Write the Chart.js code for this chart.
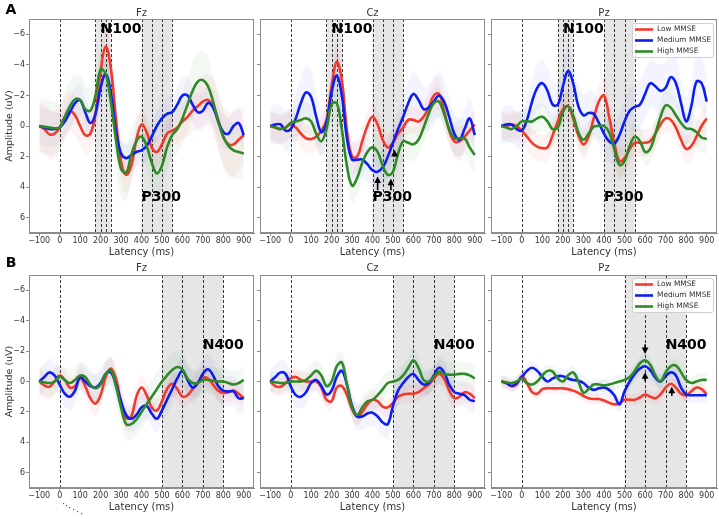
<!DOCTYPE html>
<html>
<head>
<meta charset="utf-8">
<script src="https://cdn.jsdelivr.net/npm/chart.js@4.4.1/dist/chart.umd.min.js"></script>
<style>
  body { margin: 0; background: #fff; width: 719px; height: 519px; position: relative; overflow: hidden; }
  canvas { position: absolute; }
</style>
</head>
<body>
<script>
// ERP grand averages per MMSE group, sampled every 25 ms (uV, negative up)
const latency = [-100,-75,-50,-25,0,25,50,75,100,125,150,175,200,225,250,275,300,325,350,375,400,425,450,475,500,525,550,575,600,625,650,675,700,725,750,775,800,825,850,875,900];
const xTicks = [-100,0,100,200,300,400,500,600,700,800,900];
const yTicks = [-6,-4,-2,0,2,4,6];
const groups = ['Low MMSE', 'Medium MMSE', 'High MMSE'];

// A: N100 / P300 window
const fzLowA = [0,0.2,0.55,0.5,0.1,-0.6,-1.0,-0.7,0.0,0.6,0.5,-0.8,-3.6,-5.2,-3.8,-0.5,2.3,3.2,2.6,0.9,-0.1,0.4,1.4,1.7,1.2,0.5,0.3,0.1,-0.3,-0.6,-1.0,-1.3,-1.6,-1.7,-1.3,-0.4,0.7,1.2,1.2,0.9,0.6];
const fzMedA = [0,0.1,0.2,0.2,0.1,-0.3,-0.9,-1.5,-1.7,-0.9,-0.2,-0.8,-2.5,-3.4,-2.2,0.3,1.8,2.1,1.9,1.7,1.6,1.3,0.7,0.0,-0.5,-0.8,-0.9,-1.4,-2.0,-2.0,-1.4,-0.9,-1.0,-1.5,-1.2,-0.3,0.4,0.5,0.0,-0.2,0.6];
const fzHighA = [0,0.05,0.1,0.15,0.1,-0.6,-1.3,-1.75,-1.7,-1.1,-1.0,-2.0,-3.7,-3.4,-1.6,0.9,2.8,3.05,1.9,1.0,0.7,1.3,2.4,3.1,2.6,1.4,0.6,0.2,-0.5,-1.4,-2.3,-2.9,-3.0,-2.6,-1.6,-0.3,0.7,1.3,1.6,1.7,1.8];
const czLowA = [0,0.1,0.2,0.1,-0.1,0.1,0.5,0.8,0.85,0.7,0.3,-0.4,-2.6,-4.2,-3.0,0.3,2.0,2.0,1.0,0.0,-0.6,-0.1,0.9,1.4,1.1,0.5,0.1,-0.4,-0.4,-0.3,-0.6,-1.2,-2.0,-2.1,-1.0,0.3,1.0,1.0,0.7,0.3,-0.1];
const czMedA = [0,-0.1,-0.1,0.3,0.2,-0.5,-1.5,-2.2,-1.9,-0.6,0.4,-0.2,-2.2,-3.3,-2.0,0.8,2.2,2.2,2.2,2.5,2.9,3.0,2.7,2.0,1.1,0.2,-0.6,-1.5,-2.1,-1.7,-1.1,-1.2,-1.6,-2.0,-1.6,-0.6,0.5,0.9,0.2,-0.5,0.6];
const czHighA = [0,0.1,0.2,0.1,-0.2,-0.3,-0.4,-0.5,-0.3,0.5,1.0,0.2,-1.4,-1.5,0.2,2.6,3.9,3.4,2.4,1.7,1.4,1.7,2.6,3.2,3.0,1.8,1.0,1.1,1.2,0.9,0.1,-0.8,-1.5,-1.6,-0.8,0.2,0.8,0.8,0.8,1.4,1.9];
const pzLowA = [0,0.0,-0.1,0.0,0.3,0.7,1.1,1.35,1.45,1.4,0.6,-0.3,-1.1,-1.3,-0.5,0.6,1.2,0.7,-0.5,-1.6,-2.0,-0.6,1.1,2.3,2.1,1.5,1.1,1.1,1.1,1.0,0.5,-0.1,-0.5,-0.4,0.1,0.9,1.5,1.3,0.7,0.0,-0.5];
const pzMedA = [0,-0.1,-0.1,0.2,0.3,-0.4,-1.6,-2.5,-2.8,-2.3,-1.4,-1.4,-2.6,-3.6,-2.8,-1.3,-0.7,-0.85,-0.8,-0.2,0.5,1.0,1.15,0.6,-0.3,-1.0,-1.25,-1.4,-2.1,-2.8,-2.6,-2.3,-2.5,-3.2,-2.8,-1.5,-0.3,-1.3,-2.9,-2.8,-1.6];
const pzHighA = [0,0.1,0.2,0.0,-0.3,-0.3,-0.3,-0.5,-0.6,-0.3,0.2,0.1,-0.9,-1.3,-0.7,0.4,0.9,0.5,0.05,0.0,0.0,0.4,1.5,2.55,2.3,1.3,0.7,1.0,1.7,1.5,0.5,-0.6,-1.35,-1.2,-0.7,-0.2,0.15,0.2,0.4,0.75,0.85];

const fzLowSemA = [1.6,1.6,1.6,1.5,1.4,1.3,1.3,1.3,1.2,1.2,1.2,1.2,1.3,1.3,1.3,1.3,1.3,1.2,1.1,1.1,1.0,1.0,1.0,1.0,1.0,1.0,1.0,1.1,1.2,1.3,1.4,1.5,1.6,1.7,1.8,1.9,2.0,2.1,2.1,2.0,1.9];
const fzMedSemA = [1.2,1.2,1.2,1.1,1.0,1.0,1.0,1.0,1.0,1.0,1.0,1.0,1.0,1.1,1.1,1.1,1.0,1.0,1.0,1.0,1.0,1.0,1.0,1.0,1.0,1.1,1.1,1.2,1.2,1.2,1.2,1.2,1.2,1.2,1.2,1.1,1.1,1.0,1.0,1.0,1.0];
const fzHighSemA = [1.8,1.8,1.8,1.7,1.6,1.6,1.6,1.6,1.6,1.5,1.5,1.5,1.5,1.5,1.5,1.6,1.8,1.8,1.7,1.6,1.5,1.5,1.5,1.5,1.5,1.5,1.5,1.6,1.7,1.8,1.9,1.9,1.9,1.9,1.8,1.8,1.8,1.8,1.8,1.8,1.8];
const czLowSemA = [0.9,0.9,0.9,0.9,0.9,0.9,0.9,0.9,0.9,0.9,0.9,1.0,1.1,1.2,1.2,1.1,1.0,1.0,0.9,0.9,0.9,0.9,0.9,0.9,0.9,0.9,0.9,0.9,0.9,1.0,1.0,1.0,1.1,1.1,1.1,1.0,1.0,1.0,0.9,0.9,0.9];
const czMedSemA = [1.3,1.3,1.3,1.3,1.4,1.6,1.7,1.8,1.8,1.7,1.5,1.3,1.3,1.3,1.3,1.2,1.2,1.2,1.2,1.2,1.2,1.2,1.2,1.2,1.2,1.2,1.3,1.4,1.5,1.5,1.5,1.5,1.5,1.5,1.4,1.4,1.4,1.4,1.4,1.3,1.3];
const czHighSemA = [1.0,1.0,1.0,1.0,1.0,1.0,1.0,1.0,1.0,1.0,1.0,1.0,1.1,1.1,1.1,1.1,1.1,1.1,1.0,1.0,1.0,1.0,1.1,1.2,1.2,1.2,1.2,1.1,1.1,1.0,1.0,1.0,1.0,1.0,1.0,1.0,1.1,1.2,1.2,1.2,1.2];
const pzLowSemA = [0.9,0.9,0.9,0.9,0.9,0.9,0.9,0.9,0.9,0.9,0.9,0.9,0.9,0.9,0.9,0.9,0.9,0.9,1.0,1.1,1.2,1.2,1.1,1.0,0.9,0.9,0.9,0.9,0.9,0.9,0.9,0.9,0.9,0.9,0.9,0.9,0.9,0.9,0.9,0.9,0.9];
const pzMedSemA = [1.2,1.2,1.2,1.2,1.3,1.4,1.5,1.5,1.5,1.5,1.5,1.5,1.5,1.5,1.5,1.4,1.4,1.4,1.4,1.4,1.4,1.4,1.4,1.4,1.4,1.4,1.5,1.6,1.6,1.6,1.6,1.7,1.7,1.7,1.7,1.6,1.6,1.7,1.7,1.7,1.6];
const pzHighSemA = [0.9,0.9,0.9,0.9,0.9,0.9,0.9,0.9,0.9,0.9,0.9,0.9,0.9,0.9,0.9,0.9,0.9,0.9,0.9,0.9,0.9,0.9,1.0,1.0,1.0,0.9,0.9,0.9,0.9,0.9,1.0,1.0,1.0,1.0,1.0,1.0,1.0,1.0,1.0,1.0,1.0];

// B: N400 window
const fzLowB = [0,0.25,0.35,0.0,-0.4,-0.1,0.4,0.3,-0.2,0.3,1.1,1.45,0.9,-0.3,-0.85,-0.2,1.4,2.4,2.3,1.0,0.4,0.9,1.7,1.9,1.3,0.5,0.15,0.5,1.0,0.9,0.5,0.1,-0.25,-0.2,0.2,0.6,0.75,0.7,0.6,0.8,1.1];
const fzMedB = [0,-0.3,-0.6,-0.4,0.2,0.8,1.0,0.6,-0.3,0.0,0.3,0.4,0.1,-0.5,-0.6,0.2,1.3,2.2,2.45,2.2,1.7,1.6,2.1,2.45,1.9,1.2,0.5,-0.2,-0.7,-0.1,0.4,0.1,-0.5,-0.8,-0.4,0.3,0.6,0.65,0.65,1.1,1.1];
const fzHighB = [0,0.05,0.1,0.0,-0.3,-0.1,0.1,-0.1,-0.4,-0.3,0.2,0.45,0.2,-0.5,-0.75,0.3,1.7,2.8,2.8,2.5,2.0,1.5,1.0,0.5,0.0,-0.4,-0.75,-0.95,-0.8,-0.2,0.1,0.1,-0.1,-0.1,-0.05,0.0,0.0,0.1,0.2,0.1,-0.1];
const czLowB = [0,0.3,0.35,0.1,-0.2,-0.3,-0.1,0.0,0.0,0.0,0.4,1.2,1.3,0.4,0.3,0.9,1.8,2.3,2.0,1.5,1.2,1.3,1.65,1.7,1.4,1.0,0.85,0.8,0.8,0.7,0.45,0.2,-0.2,-0.5,-0.2,0.6,1.1,1.0,0.7,0.8,1.1];
const czMedB = [0,-0.3,-0.6,-0.5,0.3,0.9,1.0,0.7,0.1,-0.1,0.3,0.85,0.6,-0.3,-0.7,0.2,1.6,2.3,2.3,2.1,2.05,2.3,2.7,2.8,1.6,0.6,0.1,-0.3,-0.5,-0.1,0.2,0.1,-0.4,-0.9,-0.6,0.2,0.7,0.8,0.9,1.2,1.3];
const czHighB = [0,0.05,0.1,0.1,0.0,0.0,0.0,-0.1,-0.4,-0.7,-0.4,0.3,0.0,-1.0,-1.25,0.2,1.7,2.2,1.7,1.3,1.2,0.9,0.5,0.1,0.0,-0.1,-0.4,-0.9,-1.4,-0.9,-0.1,0.0,-0.3,-0.65,-0.5,-0.45,-0.45,-0.5,-0.5,-0.4,-0.2];
const pzLowB = [0,0.1,0.3,0.2,-0.35,0.1,0.7,0.8,0.5,0.45,0.45,0.45,0.45,0.5,0.6,0.75,0.95,1.1,1.15,1.15,1.25,1.4,1.5,1.45,1.2,1.2,1.2,1.05,0.85,1.0,1.1,0.85,0.4,0.15,0.4,0.8,0.9,0.65,0.4,0.5,0.85];
const pzMedB = [0,0.1,0.3,0.1,-0.3,-0.7,-0.9,-0.7,-0.3,0.0,-0.2,-0.35,-0.35,-0.2,-0.1,-0.05,0.1,0.4,0.55,0.45,0.4,0.55,0.9,1.5,0.65,0.0,-0.5,-0.85,-1.0,-0.75,-0.25,0.0,-0.35,-0.6,-0.4,0.4,0.85,0.9,0.9,0.9,0.9];
const pzHighB = [0,0.05,0.1,0.0,-0.2,0.1,0.2,0.0,-0.4,-0.7,-0.65,-0.2,0.0,-0.4,-0.6,0.0,0.75,0.5,0.2,0.2,0.25,0.2,0.1,0.0,-0.1,-0.3,-0.7,-1.2,-1.4,-1.1,-0.4,0.0,-0.6,-1.0,-1.05,-0.6,-0.1,0.1,0.0,-0.1,-0.1];

const fzLowSemB = [0.8,0.8,0.8,0.8,0.7,0.7,0.7,0.7,0.7,0.7,0.8,0.8,0.8,0.8,0.8,0.8,0.8,0.8,0.8,0.8,0.8,0.8,0.8,0.8,0.8,0.8,0.8,0.8,0.7,0.7,0.7,0.7,0.7,0.7,0.7,0.7,0.7,0.7,0.7,0.7,0.7];
const fzMedSemB = [0.9,0.9,0.9,0.9,0.9,0.9,0.9,0.9,0.9,0.9,0.9,0.9,0.9,0.9,0.9,0.9,0.9,0.9,0.9,0.9,0.9,0.9,0.9,0.9,0.9,1.0,1.0,1.0,1.0,1.0,1.0,1.0,1.0,1.0,1.0,1.0,1.0,1.0,1.0,1.0,1.0];
const fzHighSemB = [0.9,0.9,0.9,0.9,0.9,0.9,0.9,0.9,0.9,0.9,0.9,0.9,0.9,0.9,0.9,1.0,1.0,1.0,1.0,1.0,1.1,1.1,1.1,1.1,1.1,1.1,1.1,1.1,1.0,1.0,0.9,0.9,0.9,0.9,0.9,0.9,0.9,0.9,0.9,0.9,0.9];
const czLowSemB = [0.6,0.6,0.6,0.6,0.6,0.6,0.6,0.6,0.6,0.6,0.6,0.6,0.6,0.6,0.6,0.6,0.6,0.6,0.6,0.6,0.6,0.6,0.6,0.6,0.6,0.6,0.6,0.6,0.6,0.6,0.6,0.6,0.7,0.7,0.7,0.7,0.7,0.7,0.7,0.7,0.7];
const czMedSemB = [0.8,0.8,0.8,0.8,0.8,0.8,0.8,0.8,0.8,0.8,0.8,0.8,0.8,0.8,0.8,0.9,0.9,0.9,0.9,0.9,0.9,0.9,0.9,0.9,0.9,0.9,0.9,0.9,0.9,0.9,0.8,0.8,0.8,0.8,0.8,0.8,0.8,0.8,0.8,0.8,0.8];
const czHighSemB = [0.7,0.7,0.7,0.7,0.7,0.7,0.7,0.7,0.7,0.7,0.7,0.7,0.7,0.7,0.7,0.7,0.7,0.7,0.7,0.7,0.8,0.8,0.8,0.8,0.8,0.8,0.8,0.8,0.8,0.8,0.8,0.8,0.8,0.8,0.8,0.8,0.8,0.8,0.8,0.8,0.8];
const pzLowSemB = [0.35,0.35,0.35,0.35,0.35,0.35,0.35,0.35,0.35,0.35,0.35,0.35,0.35,0.35,0.35,0.35,0.35,0.35,0.35,0.35,0.4,0.4,0.4,0.4,0.4,0.4,0.4,0.4,0.4,0.4,0.4,0.4,0.4,0.4,0.4,0.4,0.4,0.4,0.4,0.4,0.4];
const pzMedSemB = [0.45,0.45,0.45,0.45,0.45,0.45,0.45,0.45,0.45,0.45,0.5,0.5,0.5,0.5,0.5,0.5,0.5,0.5,0.5,0.5,0.5,0.5,0.5,0.5,0.5,0.5,0.5,0.5,0.5,0.5,0.5,0.5,0.5,0.5,0.5,0.5,0.5,0.5,0.5,0.5,0.5];
const pzHighSemB = [0.4,0.4,0.4,0.4,0.4,0.4,0.4,0.4,0.4,0.4,0.4,0.4,0.4,0.4,0.4,0.4,0.4,0.4,0.4,0.4,0.45,0.45,0.45,0.45,0.45,0.45,0.45,0.45,0.45,0.45,0.45,0.45,0.45,0.45,0.45,0.45,0.45,0.45,0.45,0.45,0.45];

// component windows, dashed markers, labels [text, ms, uV], arrows [ms, tail uV, head uV]
const shadeA = [[175, 250], [400, 550]];
const dashA = [0, 175, 200, 225, 250, 400, 450, 500, 550];
const textA = [['N100', 200, -6.3], ['P300', 400, 4.65]];
const shadeB = [[500, 800]];
const dashB = [0, 500, 600, 700, 800];
const textB = [['N400', 700, -2.35]];
const czArrowsA = [[425, 4.2, 3.3], [490, 4.2, 3.45], [508, 2.0, 1.55]];
const pzArrowsB = [[600, -2.45, -1.8], [600, 0.0, -0.6], [730, 0.95, 0.35]];

const lineColors = ['#f2392b', '#0c1ef0', '#2e8a26'];
const bandColors = ['rgba(255,0,0,0.05)', 'rgba(0,0,255,0.045)', 'rgba(0,128,0,0.05)'];
const ink = '#333';
const spine = '#8c8c8c';
const family = '"DejaVu Sans", sans-serif';

const panels = [
  { row: 0, col: 0, name: 'Fz', data: [fzLowA, fzMedA, fzHighA], sem: [fzLowSemA, fzMedSemA, fzHighSemA], shade: shadeA, dash: dashA, text: textA, arrows: [], legend: false, letter: 'A' },
  { row: 0, col: 1, name: 'Cz', data: [czLowA, czMedA, czHighA], sem: [czLowSemA, czMedSemA, czHighSemA], shade: shadeA, dash: dashA, text: textA, arrows: czArrowsA, legend: false },
  { row: 0, col: 2, name: 'Pz', data: [pzLowA, pzMedA, pzHighA], sem: [pzLowSemA, pzMedSemA, pzHighSemA], shade: shadeA, dash: dashA, text: textA, arrows: [], legend: true },
  { row: 1, col: 0, name: 'Fz', data: [fzLowB, fzMedB, fzHighB], sem: [fzLowSemB, fzMedSemB, fzHighSemB], shade: shadeB, dash: dashB, text: textB, arrows: [], legend: false, letter: 'B' },
  { row: 1, col: 1, name: 'Cz', data: [czLowB, czMedB, czHighB], sem: [czLowSemB, czMedSemB, czHighSemB], shade: shadeB, dash: dashB, text: textB, arrows: [], legend: false },
  { row: 1, col: 2, name: 'Pz', data: [pzLowB, pzMedB, pzHighB], sem: [pzLowSemB, pzMedSemB, pzHighSemB], shade: shadeB, dash: dashB, text: textB, arrows: pzArrowsB, legend: true },
];

// plot area edges on the page
const colLeft = [29, 260, 491];
const colRight = [254, 485, 717];
const rowTop = [19, 275];
const rowBottom = [233, 488];

function minus(v) {
  return String(v).replace('-', '\u2212');
}

function drawArrow(ctx, x, y0, y1) {
  const dir = Math.sign(y1 - y0);
  ctx.beginPath();
  ctx.moveTo(x, y0);
  ctx.lineTo(x, y1 - dir * 5);
  ctx.lineWidth = 1.6;
  ctx.stroke();
  ctx.beginPath();
  ctx.moveTo(x, y1);
  ctx.lineTo(x - 3.4, y1 - dir * 6.5);
  ctx.lineTo(x + 3.4, y1 - dir * 6.5);
  ctx.closePath();
  ctx.fill();
}

function decor(p) {
  return {
    id: 'decor' + p.row + p.col,
    beforeDatasetsDraw(chart) {
      const { ctx, chartArea: a, scales: { x } } = chart;
      ctx.save();
      ctx.fillStyle = 'rgba(128,128,128,0.2)';
      p.shade.forEach(([s, e]) => {
        const x0 = x.getPixelForValue(s);
        const x1 = x.getPixelForValue(e);
        ctx.fillRect(x0, a.top, x1 - x0, a.bottom - a.top);
      });
      ctx.strokeStyle = '#222';
      ctx.lineWidth = 0.9;
      ctx.setLineDash([3, 2]);
      p.dash.forEach((v) => {
        const px = Math.round(x.getPixelForValue(v)) + 0.5;
        ctx.beginPath();
        ctx.moveTo(px, a.top);
        ctx.lineTo(px, a.bottom);
        ctx.stroke();
      });
      ctx.restore();
    },
    afterDatasetsDraw(chart) {
      const { ctx, scales: { x, y } } = chart;
      ctx.save();
      ctx.fillStyle = '#000';
      ctx.strokeStyle = '#000';
      ctx.font = 'bold 14px ' + family;
      ctx.textAlign = 'left';
      ctx.textBaseline = 'middle';
      p.text.forEach(([t, ms, uv]) => ctx.fillText(t, x.getPixelForValue(ms), y.getPixelForValue(uv)));
      p.arrows.forEach(([ms, tail, head]) => {
        drawArrow(ctx, x.getPixelForValue(ms), y.getPixelForValue(tail), y.getPixelForValue(head));
      });
      ctx.restore();
    },
    afterDraw(chart) {
      const { ctx, chartArea: a } = chart;
      ctx.save();
      ctx.strokeStyle = spine;
      ctx.lineWidth = 1;
      ctx.strokeRect(a.left + 0.5, a.top + 0.5, a.right - a.left - 1, a.bottom - a.top - 1);

      ctx.fillStyle = ink;
      ctx.font = '10px ' + family;
      ctx.textAlign = 'center';
      ctx.textBaseline = 'middle';
      ctx.fillText(p.name, (a.left + a.right) / 2, a.top - (p.row === 0 ? 6 : 7));

      if (p.letter) {
        ctx.fillStyle = '#000';
        ctx.font = 'bold 14px ' + family;
        ctx.fillText(p.letter, 11, p.row === 0 ? 10 : 8);
      }

      if (p.legend) {
        const bw = 81, bh = 34;
        const bx = a.right - 4 - bw;
        const by = a.top + (p.row === 0 ? 4 : 3);
        ctx.fillStyle = 'rgba(255,255,255,0.85)';
        ctx.strokeStyle = '#cfcfcf';
        ctx.lineWidth = 1;
        ctx.beginPath();
        ctx.roundRect(bx + 0.5, by + 0.5, bw, bh, 2);
        ctx.fill();
        ctx.stroke();
        ctx.font = '7.4px ' + family;
        ctx.textAlign = 'left';
        groups.forEach((g, k) => {
          const yy = by + 6.5 + k * 11;
          ctx.strokeStyle = lineColors[k];
          ctx.lineWidth = 2.6;
          ctx.beginPath();
          ctx.moveTo(bx + 3, yy);
          ctx.lineTo(bx + 21, yy);
          ctx.stroke();
          ctx.fillStyle = ink;
          ctx.fillText(g, bx + 25, yy);
        });
      }

      if (p.row === 1 && p.col === 0) {
        // stray dotted stroke under the lower-left panel
        ctx.fillStyle = '#555';
        [[63, 248], [66, 250], [69, 252], [73, 254], [77, 256], [81, 258]].forEach(([dx, dy]) => ctx.fillRect(dx, dy, 1.2, 1.2));
      }
      ctx.restore();
    },
  };
}

panels.forEach((p) => {
  const L = p.col === 0 ? 29 : 6;
  const T = p.row === 0 ? 19 : 20;
  const R = 2, B = 27, PB = 4;
  const canvas = document.createElement('canvas');
  const width = colRight[p.col] - colLeft[p.col] + L + R;
  const height = rowBottom[p.row] - rowTop[p.row] + T + B + PB;
  canvas.width = width;
  canvas.height = height;
  canvas.style.width = `${width}px`;
  canvas.style.height = `${height}px`;
  canvas.style.left = `${colLeft[p.col] - L}px`;
  canvas.style.top = `${rowTop[p.row] - T}px`;
  document.body.appendChild(canvas);

  const datasets = [];
  p.data.forEach((vals, k) => {
    datasets.push({
      data: latency.map((t, i) => ({ x: t, y: vals[i] - p.sem[k][i] })),
      borderWidth: 0, borderColor: 'transparent', pointRadius: 0, tension: 0.4, fill: false, order: 10,
    });
    datasets.push({
      data: latency.map((t, i) => ({ x: t, y: vals[i] + p.sem[k][i] })),
      borderWidth: 0, borderColor: 'transparent', pointRadius: 0, tension: 0.4, fill: '-1',
      backgroundColor: bandColors[k], order: 10,
    });
  });
  p.data.forEach((vals, k) => {
    datasets.push({
      label: groups[k],
      data: latency.map((t, i) => ({ x: t, y: vals[i] })),
      borderColor: lineColors[k], borderWidth: 2.6, pointRadius: 0, tension: 0.4, fill: false, order: 3 - k,
    });
  });

  const tickFont = { size: 8, family };
  new Chart(canvas, {
    type: 'line',
    data: { datasets },
    options: {
      responsive: false,
      animation: false,
      devicePixelRatio: 1,
      layout: { padding: { top: T, right: R, bottom: PB, left: 0 } },
      plugins: { legend: { display: false }, tooltip: { enabled: false } },
      scales: {
        x: {
          type: 'linear',
          min: -150,
          max: 950,
          afterBuildTicks: (s) => { s.ticks = xTicks.map((v) => ({ value: v })); },
          afterFit: (s) => { s.height = B; },
          grid: { drawOnChartArea: false, drawTicks: true, tickLength: 3, color: spine },
          border: { color: spine },
          ticks: { font: tickFont, color: ink, padding: 0, maxRotation: 0, autoSkip: false, callback: (v) => minus(v) },
          title: { display: true, text: 'Latency (ms)', color: ink, font: { size: 10, family }, padding: { top: 0, bottom: 2 } },
        },
        y: {
          min: -7,
          max: 7,
          reverse: true,
          afterBuildTicks: (s) => { s.ticks = yTicks.map((v) => ({ value: v })); },
          afterFit: (s) => { s.width = L; },
          grid: { drawOnChartArea: false, drawTicks: true, tickLength: 3, color: spine },
          border: { color: spine },
          ticks: { font: tickFont, color: ink, padding: 1, callback: (v) => (p.col === 0 ? minus(v) : '') },
          title: { display: p.col === 0, text: 'Amplitude (uV)', color: ink, font: { size: 9.5, family }, padding: { top: 4, bottom: 0 } },
        },
      },
    },
    plugins: [decor(p)],
  });
});
</script>
</body>
</html>
